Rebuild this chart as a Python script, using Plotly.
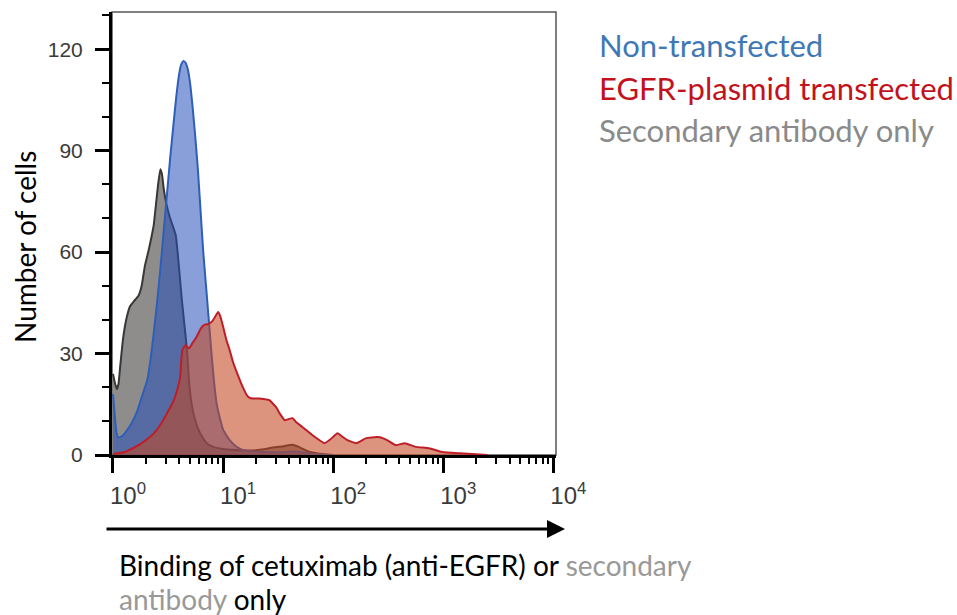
import plotly.graph_objects as go

# ---------------- data ----------------
# Non-transfected (blue)
blue_x = [1.0, 1.035, 1.072, 1.109, 1.202, 1.318, 1.479, 1.660, 1.862, 2.042, 2.188,
          2.344, 2.512, 2.692, 2.884, 3.090, 3.311, 3.548, 3.758, 3.981, 4.169, 4.365,
          4.571, 4.786, 5.012, 5.248, 5.559, 5.888, 6.166, 6.607, 6.998, 7.328, 7.586,
          7.943, 8.318, 8.710, 9.333, 10.0, 11.48, 13.18, 15.14, 19.95, 31.62, 44.67,
          63.10, 100.0]
blue_y = [18, 12, 7, 5.2, 5.5, 7, 9.5, 13, 18, 22, 28,
          36, 45, 55, 66, 77, 88, 98, 106, 112.5, 115.5, 116.5,
          116, 114, 110, 104, 95, 85, 75, 60, 50, 42, 36,
          28, 21, 15.5, 11, 7.5, 4.4, 2.5, 1.5, 1, 0.8, 1,
          0.4, 0]

# EGFR-plasmid transfected (red)
red_x = [1.0, 1.259, 1.514, 1.778, 2.163, 2.512, 2.818, 3.090, 3.548, 3.890, 4.074,
         4.266, 4.571, 4.898, 5.248, 5.754, 6.310, 6.761, 7.413, 7.943, 8.511, 9.016,
         9.441, 10.0, 10.72, 11.48, 12.30, 13.49, 15.14, 16.60, 17.78, 21.38, 26.30,
         30.20, 33.11, 36.31, 42.66, 46.77, 52.48, 64.57, 74.13, 83.18, 93.33, 109.6,
         120.2, 134.9, 162.2, 199.5, 251.2, 281.8, 309.0, 371.5, 446.7, 562.3, 741.3,
         977.2, 1413, 1995, 2512]
red_y = [0.3, 0.8, 2, 3.3, 5.3, 7.5, 10, 12.3, 16, 20, 23,
         31, 32.5, 31.5, 33, 35, 37.5, 38.5, 38.8, 39.5, 41, 42.3,
         41, 38, 34, 31, 27.5, 24, 20, 17.5, 16.8, 16.7, 16.2,
         14.2, 12, 10.3, 10.9, 9.5, 8.3, 5.9, 4.5, 3.5, 4.5, 6.4,
         5.5, 4.4, 3.5, 5, 5.3, 5, 4.4, 2.9, 3.5, 2.4, 2,
         0.9, 0.5, 0.2, 0]

# Secondary antibody only (grey)
grey_x = [1.0, 1.047, 1.084, 1.122, 1.161, 1.230, 1.318, 1.429, 1.549, 1.698, 1.820,
          1.950, 2.089, 2.188, 2.344, 2.455, 2.570, 2.692, 2.786, 2.884, 3.020, 3.236,
          3.467, 3.715, 3.890, 4.217, 4.571, 4.732, 4.898, 5.129, 5.495, 6.166, 7.079,
          8.128, 10.0, 13.18, 17.78, 22.39, 28.18, 35.48, 42.66, 50.12, 60.26, 79.43,
          100.0]
grey_y = [24, 21, 19.5, 21, 26, 34, 40, 44, 45.5, 47, 50,
          56, 60, 63, 68, 74, 80, 84.5, 83, 79, 75, 71,
          68, 65, 59, 46, 35, 30, 22, 16, 11, 6.5, 3.5,
          2.4, 1.8, 1.5, 1.3, 1.6, 2.2, 2.6, 3.0, 2.2, 1, 0.3,
          0]

x_tickvals = [1, 10, 100, 1000, 10000]
x_ticktext = ["10<sup>0</sup>", "10<sup>1</sup>", "10<sup>2</sup>", "10<sup>3</sup>", "10<sup>4</sup>"]
x_mid_ticks = [5, 50, 500, 5000]
y_tickvals = [0, 30, 60, 90, 120]

legend_labels = ["Non-transfected", "EGFR-plasmid transfected", "Secondary antibody only"]

# ---------------- figure ----------------
W, H = 957, 615
L, R, T, B = 112, 401, 12, 160
PW, PH = W - L - R, H - T - B


def px_x(p):
    return (p - L) / PW


def px_y(p):
    return (H - B - p) / PH


fig = go.Figure()

fig.add_trace(go.Scatter(
    x=grey_x, y=grey_y, mode="lines", name=legend_labels[2],
    line=dict(color="rgb(55,55,55)", width=2, shape="spline", smoothing=0.4),
    fill="tozeroy", fillcolor="rgba(60,58,55,0.58)"))
fig.add_trace(go.Scatter(
    x=blue_x, y=blue_y, mode="lines", name=legend_labels[0],
    line=dict(color="rgb(45,95,185)", width=2, shape="spline", smoothing=0.4),
    fill="tozeroy", fillcolor="rgba(40,80,185,0.55)"))
fig.add_trace(go.Scatter(
    x=red_x, y=red_y, mode="lines", name=legend_labels[1],
    line=dict(color="rgb(190,30,40)", width=2, shape="spline", smoothing=0.4),
    fill="tozeroy", fillcolor="rgba(195,70,35,0.58)"))

y_tick_font = dict(family="Liberation Sans, Arial, sans-serif", size=21, color="#3a3a3a")
x_tick_font = dict(family="Liberation Sans, Arial, sans-serif", size=24, color="#3a3a3a")

fig.update_layout(
    width=W, height=H,
    margin=dict(l=L, r=R, t=T, b=B, pad=0),
    paper_bgcolor="white", plot_bgcolor="white",
    showlegend=False,
    xaxis=dict(
        type="log", range=[-0.009, 4.024],
        tickvals=x_tickvals, ticktext=x_ticktext,
        ticks="outside", ticklen=15, tickwidth=3, tickcolor="black",
        showline=True, linewidth=3, linecolor="black",
        showgrid=False, zeroline=False,
        tickfont=x_tick_font, ticklabelshift=15, ticklabelstandoff=2,
        minor=dict(ticks="outside", ticklen=6, tickwidth=2, tickcolor="black",
                   dtick="D1", showgrid=False),
    ),
    xaxis2=dict(
        type="log", range=[-0.009, 4.024], overlaying="x", anchor="y", side="bottom",
        tickvals=x_mid_ticks, ticks="outside", ticklen=11, tickwidth=3, tickcolor="black",
        showticklabels=False, showline=False, showgrid=False, zeroline=False,
    ),
    yaxis=dict(
        range=[0, 131],
        tickvals=y_tickvals,
        ticks="outside", ticklen=14, tickwidth=3, tickcolor="black",
        showline=True, linewidth=3, linecolor="black",
        showgrid=False, zeroline=False,
        tickfont=y_tick_font, ticklabelstandoff=8,
        minor=dict(ticks="outside", ticklen=7, tickwidth=2, tickcolor="black",
                   dtick=10, showgrid=False),
    ),
)

# thin frame around the plot
fig.add_shape(type="rect", xref="paper", yref="paper", x0=0, x1=1, y0=0, y1=1,
              line=dict(color="#555555", width=1.5), layer="below")

# legend text
leg_font = "Lato, Carlito, Calibri, sans-serif"
leg_colors = ["#3f78b5", "#c2121c", "#8a8a8a"]
leg_y = [45, 88, 130]
for lab, col, yy in zip(legend_labels, leg_colors, leg_y):
    fig.add_annotation(x=px_x(597), y=px_y(yy), xref="paper", yref="paper",
                       text=lab, showarrow=False, xanchor="left", yanchor="middle",
                       font=dict(family=leg_font, size=31, color=col))

# y-axis title
fig.add_annotation(x=px_x(25), y=px_y(247), xref="paper", yref="paper",
                   text="Number of cells", showarrow=False, textangle=-90,
                   xanchor="center", yanchor="middle",
                   font=dict(family=leg_font, size=28, color="black"))

# arrow under the x axis
fig.add_annotation(x=px_x(565), y=px_y(529), xref="paper", yref="paper",
                   ax=-460, ay=0, axref="pixel", ayref="pixel",
                   text="", showarrow=True, arrowhead=2, arrowsize=1.2,
                   arrowwidth=3, arrowcolor="black")

# x-axis title (two lines)
fig.add_annotation(x=px_x(117), y=px_y(565), xref="paper", yref="paper",
                   text="Binding of cetuximab (anti-EGFR) or <span style='color:#999999'>secondary</span>",
                   showarrow=False, xanchor="left", yanchor="middle",
                   font=dict(family=leg_font, size=28, color="black"))
fig.add_annotation(x=px_x(117), y=px_y(599), xref="paper", yref="paper",
                   text="<span style='color:#999999'>antibody</span> only",
                   showarrow=False, xanchor="left", yanchor="middle",
                   font=dict(family=leg_font, size=28, color="black"))

fig.write_html("out.html")
